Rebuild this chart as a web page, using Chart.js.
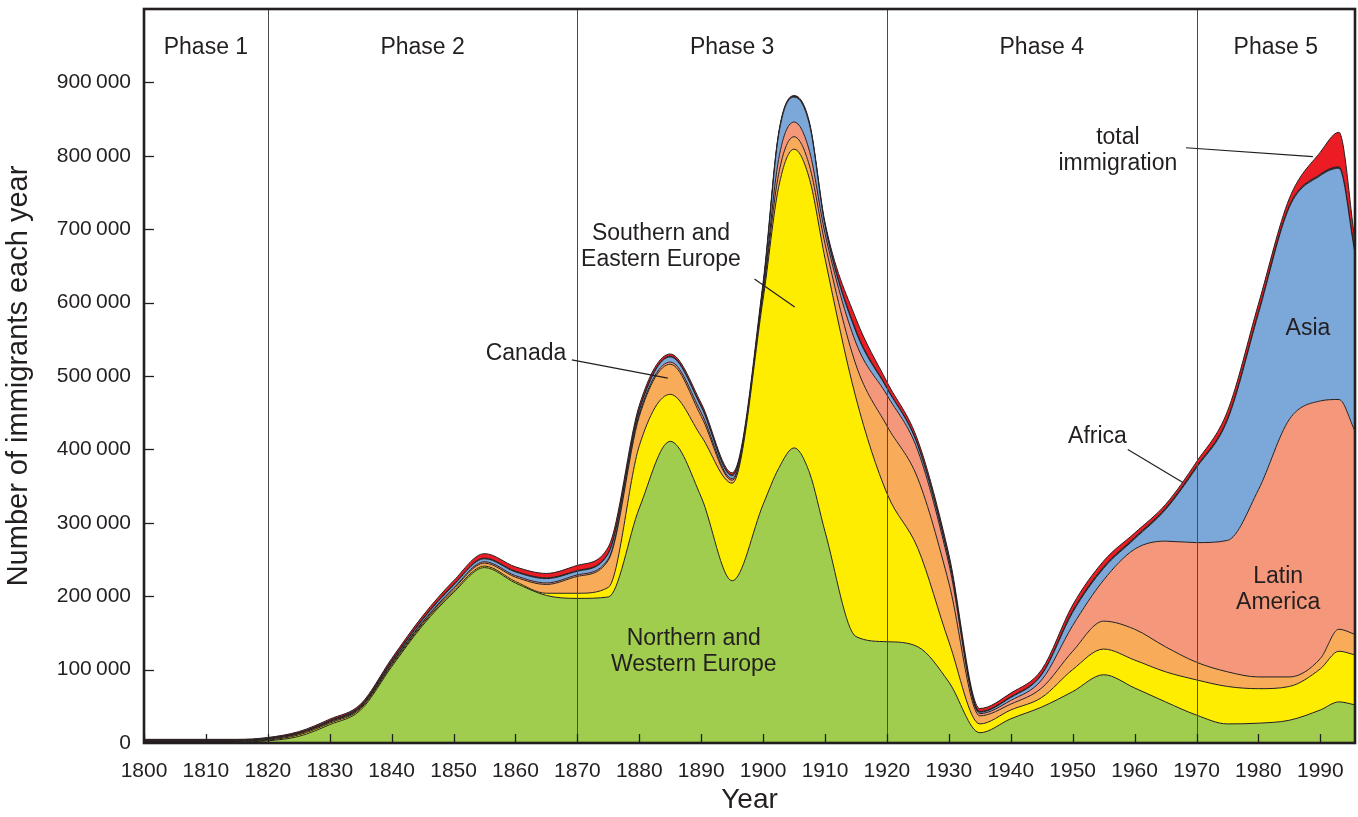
<!DOCTYPE html>
<html>
<head>
<meta charset="utf-8">
<title>Immigrants each year</title>
<script src="https://cdn.jsdelivr.net/npm/chart.js@4.4.0/dist/chart.umd.min.js"></script>
<style>
  html, body { margin: 0; padding: 0; background: #fff; }
  #wrap { width: 1358px; height: 817px; }
</style>
</head>
<body>
<div id="wrap"><canvas id="immigrationChart" width="1358" height="817"></canvas></div>
<script>
// years sampled off the graph (last point = right edge of the plot)
const years = [1800, 1810, 1815, 1820, 1825, 1830, 1835, 1840, 1845, 1850, 1855, 1860, 1865, 1870, 1875,
  1880, 1885, 1890, 1895, 1900, 1902.5, 1905, 1907.5, 1910, 1915, 1920, 1925, 1930, 1935, 1940, 1945, 1950, 1955,
  1960, 1965, 1970, 1975, 1980, 1985, 1990, 1993, 1995.6];

// immigrants per year by origin (each layer, not cumulative)
const northWestEurope = [1500, 1500, 1500, 3000, 9000, 25000, 45000, 104000, 160000, 205000, 239000, 218000, 201000, 197000, 199000,
  320000, 411000, 335000, 221000, 325000, 374000, 402000, 368000, 288000, 145000, 138000, 131000, 83000, 14000, 33000, 49000, 70000, 93000,
  75000, 56000, 38000, 26000, 27000, 31000, 45000, 56000, 52000];
const southEastEurope = [500, 500, 500, 1000, 2000, 2000, 2000, 2000, 2000, 2000, 2000, 2000, 3000, 7000, 13000,
  85000, 64000, 83000, 133000, 280000, 383000, 407000, 400000, 372000, 325000, 202000, 134000, 55000, 12000, 12000, 13000, 30000, 35000,
  38000, 41000, 48000, 51000, 47000, 46000, 56000, 69000, 68000];
const canada = [500, 500, 500, 1000, 1500, 1500, 1500, 2000, 2000, 3000, 4000, 6000, 12000, 23000, 37000,
  40000, 41000, 27000, 4000, 7000, 18000, 17000, 18000, 20000, 45000, 92000, 95000, 80000, 11000, 8000, 13000, 25000, 38000,
  42000, 34000, 24000, 20000, 16000, 13000, 14000, 30000, 28000];
const latinAmerica = [500, 500, 500, 500, 500, 500, 500, 1000, 1000, 1000, 2000, 2000, 2000, 2000, 2000,
  3000, 3000, 5000, 2000, 3000, 20000, 20000, 20000, 14000, 30000, 42000, 38000, 26000, 3000, 5000, 11000, 35000, 56000,
  109000, 144000, 163000, 179000, 255000, 351000, 351000, 313000, 277000];
const asia = [500, 500, 500, 500, 500, 1000, 1000, 2000, 3000, 4000, 4000, 5000, 6000, 5000, 7000,
  5000, 7000, 8000, 4000, 7000, 33000, 34000, 36000, 11000, 15000, 9000, 7000, 6000, 2000, 4000, 7000, 18000, 16000,
  14000, 43000, 102000, 164000, 240000, 289000, 307000, 315000, 242000];
const africa = [500, 500, 500, 500, 500, 500, 1000, 1000, 1000, 1000, 1000, 1000, 1000, 1000, 1000,
  1000, 1000, 1000, 1000, 1000, 1000, 1000, 1000, 1000, 2000, 1000, 1000, 1000, 1000, 1000, 1000, 2000, 2000,
  2000, 2000, 2000, 2000, 2000, 2000, 2000, 2000, 2000];
const otherTotal = [1000, 1000, 1000, 1000, 1500, 2000, 2000, 3000, 4000, 5000, 6000, 6000, 6000, 7000, 8000,
  6000, 3000, 4000, 3000, 5000, 2000, 1000, 2000, 3000, 16000, 8000, 6000, 6000, 4000, 5000, 6000, 8000, 8000,
  6000, 5000, 6000, 10000, 11000, 10000, 30000, 47000, 15000];

const xTicks = [1800, 1810, 1820, 1830, 1840, 1850, 1860, 1870, 1880, 1890, 1900, 1910, 1920, 1930, 1940, 1950, 1960, 1970, 1980, 1990];
const phaseBreaks = [1820, 1870, 1920, 1970];
const phaseNames = ['Phase 1', 'Phase 2', 'Phase 3', 'Phase 4', 'Phase 5'];
const phaseCentres = [1810, 1845, 1895, 1945, 1982.8];

const INK = '#231f20';
const FONT = '"Liberation Sans", Arial, Helvetica, sans-serif';

// labels written inside the graph (year, value = where the text centre sits)
const notes = [
  { lines: ['Southern and', 'Eastern Europe'], year: 1883.5, value: 694000 },
  { lines: ['Canada'], year: 1861.7, value: 530000 },
  { lines: ['Northern and', 'Western Europe'], year: 1888.8, value: 142000 },
  { lines: ['total', 'immigration'], year: 1957.3, value: 825000 },
  { lines: ['Asia'], year: 1988.0, value: 565000 },
  { lines: ['Africa'], year: 1954.0, value: 417000 },
  { lines: ['Latin', 'America'], year: 1983.2, value: 227000 }
];
const pointers = [
  [[1898.6, 632000], [1905.1, 594000]],
  [[1869.1, 522000], [1884.6, 497000]],
  [[1968.3, 811000], [1988.8, 799000]],
  [[1958.9, 400000], [1967.8, 355000]]
];

function layer(label, values, color, fill) {
  return {
    label: label,
    data: years.map((yr, i) => ({ x: yr, y: values[i] })),
    backgroundColor: color,
    borderColor: INK,
    borderWidth: 1,
    pointRadius: 0,
    fill: fill,
    cubicInterpolationMode: 'monotone'
  };
}

function spaced(v) {
  return String(v).replace(/\B(?=(\d{3})+(?!\d))/g, '\u2009');
}

const overlay = {
  id: 'overlay',
  afterDatasetsDraw(chart) {
    const ctx = chart.ctx;
    const xs = chart.scales.x, ys = chart.scales.y;
    const area = chart.chartArea;
    ctx.save();

    // phase dividers
    ctx.strokeStyle = '#4a4a4a';
    ctx.lineWidth = 1;
    phaseBreaks.forEach(yr => {
      const px = Math.round(xs.getPixelForValue(yr)) + 0.5;
      ctx.beginPath();
      ctx.moveTo(px, area.top);
      ctx.lineTo(px, area.bottom);
      ctx.stroke();
    });

    ctx.fillStyle = INK;
    ctx.textAlign = 'center';
    ctx.textBaseline = 'middle';
    ctx.font = '23px ' + FONT;
    phaseNames.forEach((name, i) => {
      ctx.fillText(name, xs.getPixelForValue(phaseCentres[i]), ys.getPixelForValue(948000));
    });

    notes.forEach(n => {
      const cx = xs.getPixelForValue(n.year);
      const cy = ys.getPixelForValue(n.value);
      n.lines.forEach((line, k) => ctx.fillText(line, cx, cy + k * 26));
    });

    ctx.strokeStyle = INK;
    ctx.lineWidth = 1.2;
    pointers.forEach(p => {
      ctx.beginPath();
      ctx.moveTo(xs.getPixelForValue(p[0][0]), ys.getPixelForValue(p[0][1]));
      ctx.lineTo(xs.getPixelForValue(p[1][0]), ys.getPixelForValue(p[1][1]));
      ctx.stroke();
    });

    // inward tick marks
    ctx.lineWidth = 1.3;
    xTicks.forEach(yr => {
      const px = Math.round(xs.getPixelForValue(yr)) + 0.5;
      ctx.beginPath();
      ctx.moveTo(px, area.bottom);
      ctx.lineTo(px, area.bottom - 9);
      ctx.stroke();
    });
    for (let v = 100000; v <= 900000; v += 100000) {
      const py = Math.round(ys.getPixelForValue(v)) + 0.5;
      ctx.beginPath();
      ctx.moveTo(area.left, py);
      ctx.lineTo(area.left + 10, py);
      ctx.stroke();
    }

    // frame
    ctx.lineWidth = 2.6;
    ctx.strokeRect(area.left, area.top, area.right - area.left, area.bottom - area.top);
    ctx.restore();
  }
};

Chart.defaults.font.family = FONT;
Chart.defaults.color = INK;

new Chart(document.getElementById('immigrationChart'), {
  type: 'line',
  data: {
    datasets: [
      layer('Northern and Western Europe', northWestEurope, '#a0cd4e', 'origin'),
      layer('Southern and Eastern Europe', southEastEurope, '#ffed00', '-1'),
      layer('Canada', canada, '#f8ab58', '-1'),
      layer('Latin America', latinAmerica, '#f4977a', '-1'),
      layer('Asia', asia, '#7ca7d9', '-1'),
      layer('Africa', africa, '#3a2a2a', '-1'),
      layer('total immigration', otherTotal, '#ec1c24', '-1')
    ]
  },
  options: {
    responsive: false,
    animation: false,
    layout: { padding: { top: 9, right: 3, left: 0, bottom: 0 } },
    plugins: { legend: { display: false }, tooltip: { enabled: false } },
    scales: {
      x: {
        type: 'linear',
        min: 1800,
        max: 1995.6,
        grid: { display: false, drawTicks: false },
        border: { display: false },
        ticks: {
          stepSize: 10,
          includeBounds: false,
          padding: 16,
          font: { size: 21 },
          color: INK,
          maxRotation: 0,
          callback: v => String(v)
        },
        title: { display: true, text: 'Year', font: { size: 28 }, color: INK, padding: { top: 2, bottom: 0 } },
        afterFit(scale) {
          scale.height = 74;
          scale.paddingLeft = 0;
          scale.paddingRight = 0;
        }
      },
      y: {
        stacked: true,
        min: 0,
        max: 1000000,
        grid: { display: false, drawTicks: false },
        border: { display: false },
        ticks: {
          stepSize: 100000,
          padding: 13,
          font: { size: 21 },
          color: INK,
          callback: v => (v >= 1000000 ? null : spaced(v))
        },
        title: { display: true, text: 'Number of immigrants each year', font: { size: 29 }, color: INK, padding: { top: 2, bottom: 0 } },
        afterFit(scale) {
          scale.width = 144;
          scale.paddingTop = 0;
          scale.paddingBottom = 0;
        }
      }
    }
  },
  plugins: [overlay]
});
</script>
</body>
</html>
